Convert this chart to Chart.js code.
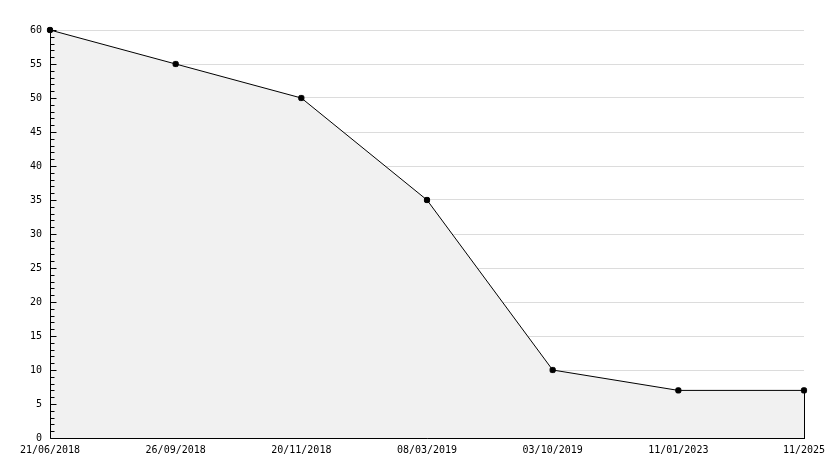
<!DOCTYPE html>
<html>
<head>
<meta charset="utf-8">
<script src="https://cdn.jsdelivr.net/npm/chart.js@4/dist/chart.umd.min.js"></script>
<style>
  html, body { margin: 0; padding: 0; background: #fff; }
  #wrap { width: 834px; height: 468px; }
</style>
</head>
<body>
<div id="wrap"><canvas id="chart" width="834" height="468"></canvas></div>
<script>
// --- DATA ---
const dates = ['21/06/2018', '26/09/2018', '20/11/2018', '08/03/2019', '03/10/2019', '11/01/2023', '11/2025'];
const values = [60, 55, 50, 35, 10, 7, 7];
const yMin = 0;
const yMax = 60;
const majorStep = 5;

const FONT = { family: '"DejaVu Sans Mono", monospace', size: 10 };

// axis lines, small tick marks inside the y axis, and the closing edge of the filled area
// (drawn after the datasets so the fill does not cover them)
const axisMarks = {
    id: 'axisMarks',
    afterDraw(chart) {
        const ctx = chart.ctx;
        const y = chart.scales.y;
        const x = chart.scales.x;
        const area = chart.chartArea;
        const left = Math.round(area.left) + 0.5;
        const bottom = Math.round(y.getPixelForValue(yMin)) + 0.5;
        ctx.save();
        ctx.strokeStyle = '#000';
        ctx.lineWidth = 1;
        ctx.beginPath();
        // y axis + x axis
        ctx.moveTo(left, Math.round(y.getPixelForValue(yMax)));
        ctx.lineTo(left, bottom);
        ctx.lineTo(Math.round(area.right) + 1, bottom);
        // tick marks
        for (let v = yMin; v <= yMax; v++) {
            const py = Math.round(y.getPixelForValue(v)) + 0.5;
            const len = (v % majorStep === 0) ? 6 : 4;
            ctx.moveTo(left, py);
            ctx.lineTo(left + len, py);
        }
        // closing edge from the last point down to the x axis
        const last = values.length - 1;
        const px = Math.round(x.getPixelForValue(last)) + 0.5;
        ctx.moveTo(px, y.getPixelForValue(values[last]));
        ctx.lineTo(px, bottom);
        ctx.stroke();
        ctx.restore();
    }
};

new Chart(document.getElementById('chart'), {
    type: 'line',
    data: {
        labels: dates,
        datasets: [{
            data: values,
            borderColor: '#000',
            borderWidth: 1,
            backgroundColor: '#f1f1f1',
            fill: 'origin',
            tension: 0,
            pointRadius: 3,
            pointStyle: 'rectRounded',
            pointBackgroundColor: '#000',
            pointBorderColor: '#000',
            pointBorderWidth: 1,
            clip: false
        }]
    },
    options: {
        responsive: false,
        animation: false,
        devicePixelRatio: 1,
        layout: { padding: { top: 30, right: 30, left: 0, bottom: 0 } },
        plugins: {
            legend: { display: false },
            tooltip: { enabled: false }
        },
        scales: {
            x: {
                offset: false,
                grid: { color: 'transparent', drawTicks: false },
                border: { display: false },
                ticks: {
                    color: '#000',
                    font: FONT,
                    padding: 6,
                    maxRotation: 0,
                    autoSkip: false
                },
                afterFit(scale) { scale.height = 30; }
            },
            y: {
                min: yMin,
                max: yMax,
                grid: {
                    drawTicks: false,
                    color: (c) => (c.tick && c.tick.value % majorStep === 0) ? '#dcdcdc' : 'transparent'
                },
                border: { display: false },
                ticks: {
                    stepSize: 1,
                    autoSkip: false,
                    color: '#000',
                    font: FONT,
                    padding: 8,
                    callback: (v) => (v % majorStep === 0) ? v : ''
                },
                afterFit(scale) { scale.width = 50; }
            }
        }
    },
    plugins: [axisMarks]
});
</script>
</body>
</html>
